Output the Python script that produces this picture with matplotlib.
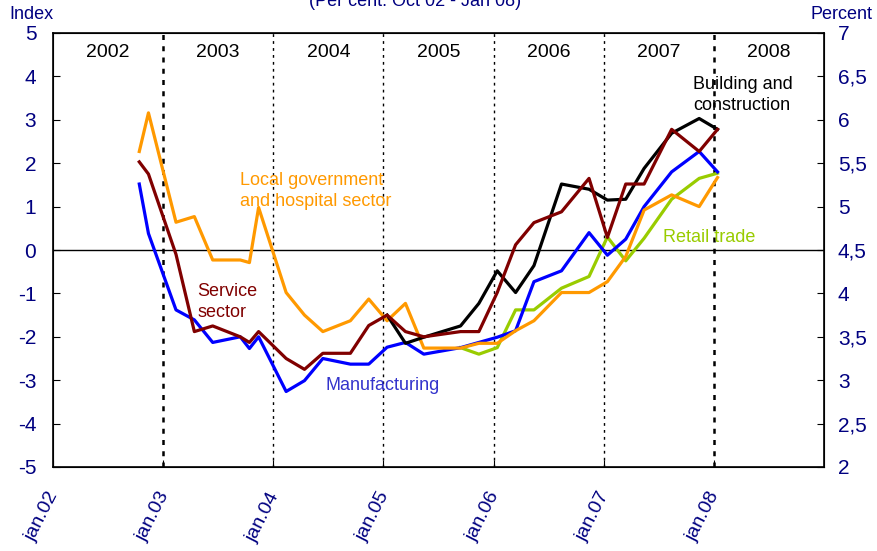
import matplotlib
matplotlib.use("Agg")
import matplotlib.pyplot as plt
import numpy as np
from matplotlib.transforms import ScaledTranslation

plt.rcParams['font.family'] = ['Liberation Sans', 'DejaVu Sans']

# ---- data ----
dates = ["2002-10", "2002-11", "2003-02", "2003-04", "2003-06", "2003-09", "2003-10",
         "2003-11", "2004-02", "2004-04", "2004-06", "2004-09", "2004-11", "2005-01",
         "2005-03", "2005-05", "2005-09", "2005-11", "2006-01", "2006-03", "2006-05",
         "2006-08", "2006-11", "2007-01", "2007-03", "2007-05", "2007-08", "2007-11",
         "2008-01"]

local_gov = [2.27, 3.16, 0.64, 0.77, -0.23, -0.23, -0.29, 0.98, -0.98, -1.5, -1.88,
             -1.63, -1.13, -1.63, -1.23, -2.26, -2.26, -2.15, -2.15, -1.86, -1.63,
             -0.98, -0.98, -0.73, -0.15, 0.92, 1.27, 1.0, 1.67]
manufacturing = [1.52, 0.38, -1.38, -1.61, -2.13, -2.0, -2.27, -2.0, -3.26, -3.01, -2.5,
                 -2.63, -2.63, -2.24, -2.13, -2.4, -2.25, -2.13, -2.01, -1.86, -0.73,
                 -0.48, 0.40, -0.12, 0.25, 1.0, 1.8, 2.27, 1.8]
service = [2.03, 1.75, -0.1, -1.88, -1.75, -2.0, -2.13, -1.88, -2.5, -2.75, -2.38, -2.38,
           -1.74, -1.5, -1.88, -2.0, -1.88, -1.88, -0.98, 0.12, 0.63, 0.88, 1.65, 0.29,
           1.52, 1.52, 2.78, 2.27, 2.78]
building = [None] * 13 + [-1.5, -2.15, -2.01, -1.75, -1.23, -0.48, -0.98, -0.36, 1.52,
                          1.4, 1.15, 1.17, 1.88, 2.69, 3.03, 2.78]
retail = [None] * 16 + [-2.25, -2.4, -2.25, -1.38, -1.38, -0.88, -0.61, 0.3, -0.25,
                        0.27, 1.17, 1.65, 1.77]

year_labels = ["2002", "2003", "2004", "2005", "2006", "2007", "2008"]
xtick_labels = ["jan.02", "jan.03", "jan.04", "jan.05", "jan.06", "jan.07", "jan.08"]
left_ticks = list(range(-5, 6))
right_ticks = [2, 2.5, 3, 3.5, 4, 4.5, 5, 5.5, 6, 6.5, 7]
right_tick_labels = ["2", "2,5", "3", "3,5", "4", "4,5", "5", "5,5", "6", "6,5", "7"]


def to_x(d):
    y, m = d.split("-")
    return int(y) + (int(m) - 1 + 0.4) / 12.0


x = np.array([to_x(d) for d in dates])


def arr(v):
    return np.array([np.nan if a is None else a for a in v], dtype=float)


navy = "#000080"
c_orange = "#FF9900"
c_blue = "#0000FF"
c_brown = "#800000"
c_green = "#99CC00"
c_black = "#000000"

fig = plt.figure(figsize=(8.77, 5.51), dpi=100)
ax = fig.add_axes([53 / 877, 84 / 551, (824 - 53) / 877, (467 - 33) / 551])

ax.set_xlim(2002, 2009)
ax.set_ylim(-5, 5)

# year separators
for yr in range(2003, 2009):
    lw = 1.8 if yr in (2003, 2008) else 1.0
    ax.axvline(yr, color="black", linestyle=(0, (2, 2.5)) if lw > 1 else (0, (2, 3)),
               lw=lw, zorder=1)
ax.axhline(0, color="black", lw=1, zorder=1)

lw = 2.3
ax.plot(x, arr(retail), color=c_green, lw=lw, zorder=3)
ax.plot(x, arr(manufacturing), color=c_blue, lw=lw, zorder=3)
ax.plot(x, arr(local_gov), color=c_orange, lw=lw, zorder=4)
ax.plot(x, arr(building), color=c_black, lw=lw, zorder=5)
ax.plot(x, arr(service), color=c_brown, lw=lw, zorder=6)

# year labels
for i, lab in enumerate(year_labels):
    ax.text(2002.5 + i, 4.56, lab, ha="center", va="center", fontsize=14, color="black")

# series labels
ax.text(2003.70, 1.36, "Local government\nand hospital sector", color=c_orange,
        fontsize=13, ha="left", va="center", linespacing=1.25)
ax.text(2003.31, -1.2, "Service\nsector", color=c_brown, fontsize=13, ha="left",
        va="center", linespacing=1.25)
ax.text(2004.47, -3.13, "Manufacturing", color="#3333CC", fontsize=13, ha="left",
        va="center")
ax.text(2007.54, 0.28, "Retail trade", color=c_green, fontsize=13, ha="left",
        va="center")
ax.text(2007.81, 3.57, "Building and\nconstruction", color="black", fontsize=13,
        ha="left", va="center", linespacing=1.25)

# axes styling
ax.set_yticks(left_ticks)
ax.set_yticklabels([str(t) for t in left_ticks])
ax.tick_params(axis="y", direction="in", length=5, pad=12, labelsize=15,
               labelcolor=navy, color="black")
ax.set_xticks(range(2002, 2009))
ax.set_xticklabels(xtick_labels, rotation=63, ha="right", va="top",
                   rotation_mode="anchor")
ax.tick_params(axis="x", direction="in", length=5, pad=16, labelsize=14,
               labelcolor=navy)
for lbl in ax.get_xticklabels():
    lbl.set_transform(lbl.get_transform() + ScaledTranslation(-6 / 100, 0, fig.dpi_scale_trans))
for s in ax.spines.values():
    s.set_linewidth(1.2)

ax2 = ax.twinx()
ax2.set_ylim(2, 7)
ax2.set_yticks(right_ticks)
ax2.set_yticklabels(right_tick_labels)
ax2.tick_params(axis="y", direction="in", length=5, pad=10, labelsize=15,
                labelcolor=navy)

fig.text(31 / 877, 1 - 19 / 551, "Index", ha="center", va="baseline", fontsize=13,
         color=navy)
fig.text(841 / 877, 1 - 19 / 551, "Percent", ha="center", va="baseline", fontsize=13,
         color=navy)
fig.text(415 / 877, 1 - 6 / 551, "(Per cent. Oct 02 - Jan 08)", ha="center",
         va="baseline", fontsize=13, color=navy)

fig.savefig("out.png", dpi=100)
